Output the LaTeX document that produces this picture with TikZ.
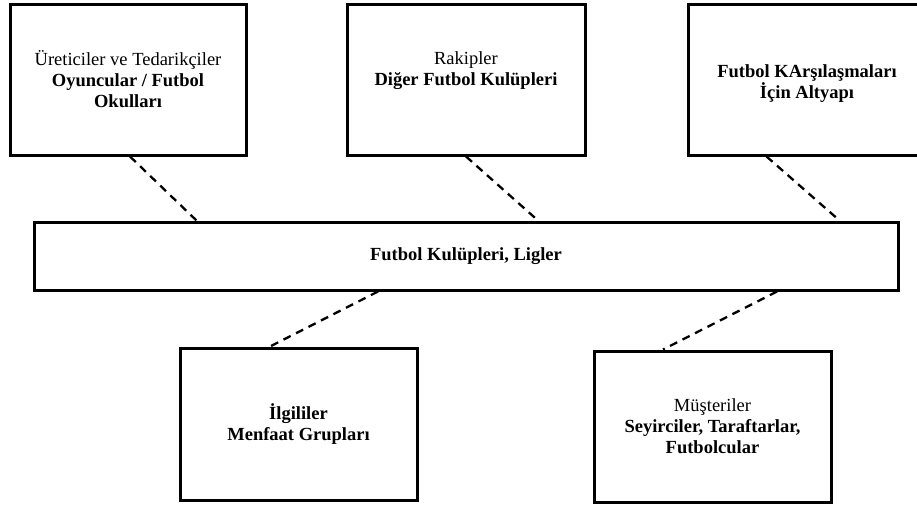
\documentclass[tikz,border=0pt]{standalone}
\usepackage{fontspec}
\setmainfont{Liberation Serif}
\begin{document}
\begin{tikzpicture}[x=1pt,y=-1pt,
  box/.style={draw, line width=3pt, inner sep=0pt, align=center,
    font=\fontsize{18.5}{21}\selectfont},
  link/.style={line width=2.3pt, dash pattern=on 8pt off 6pt}]
\useasboundingbox (0,0) rectangle (917,504);
\fill[white] (0,0) rectangle (917,504);

% outer ring of actors
\node[box, minimum width=236, minimum height=151] (A) at (128,79.5)
  {Üreticiler ve Tedarikçiler\\\textbf{Oyuncular / Futbol}\\\textbf{Okulları}};
\node[box, minimum width=238, minimum height=151] (B) at (466,79.5)
  {Rakipler\\\textbf{Diğer Futbol Kulüpleri}\\\mbox{}};
\node[box, minimum width=238, minimum height=151] (C) at (807,79.5)
  {\mbox{}\\\textbf{Futbol KArşılaşmaları}\\\textbf{İçin Altyapı}};

% central sector
\node[box, minimum width=864, minimum height=68] (M) at (466,256)
  {\textbf{Futbol Kulüpleri, Ligler}};

\node[box, minimum width=237, minimum height=152] (D) at (298.5,424)
  {\textbf{İlgililer}\\\textbf{Menfaat Grupları}};
\node[box, minimum width=237, minimum height=151] (E) at (712.5,426.5)
  {Müşteriler\\\textbf{Seyirciler, Taraftarlar,}\\\textbf{Futbolcular}};

% relations
\draw[link] ([xshift=2pt]A.south) -- ([xshift=164pt]M.north west);
\draw[link] (B.south) -- ([xshift=72pt]M.north);
\draw[link] ([xshift=80pt]C.south west) -- ([xshift=-60pt]M.north east);
\draw[link] ([xshift=-88pt]M.south) -- ([xshift=-28.5pt]D.north);
\draw[link] ([xshift=311pt]M.south) -- ([xshift=-49.5pt]E.north);
\end{tikzpicture}
\end{document}
